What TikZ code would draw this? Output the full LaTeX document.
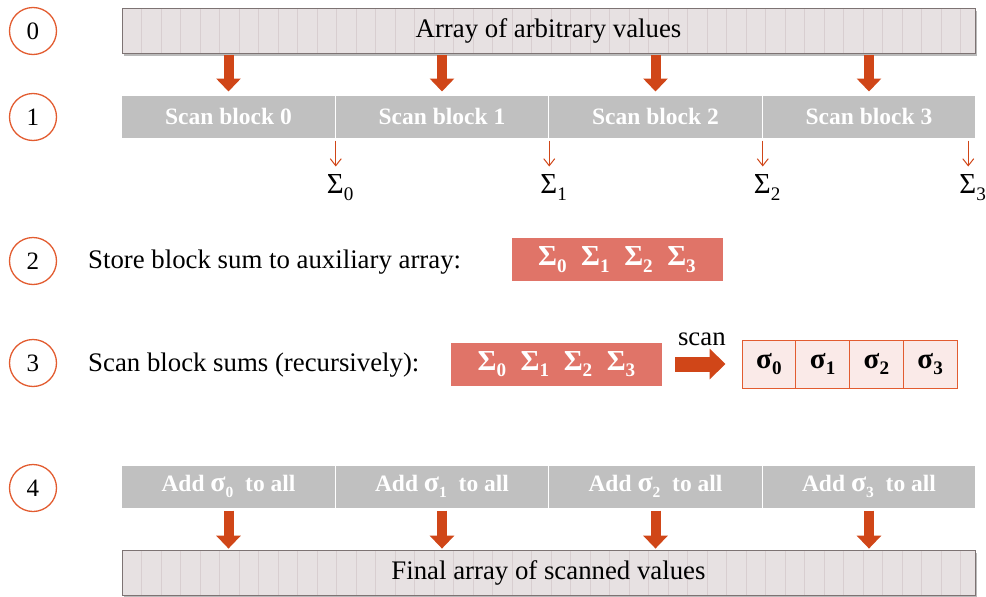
\documentclass[tikz,border=0pt]{standalone}
\usepackage{fontspec}
\setmainfont{Liberation Serif}
\usetikzlibrary{arrows.meta,shadows}

\definecolor{fatred}{RGB}{208,70,24}
\definecolor{ringred}{RGB}{226,92,48}
\definecolor{blockgray}{RGB}{192,192,192}
\definecolor{sumred}{RGB}{224,116,104}
\definecolor{cellpink}{RGB}{250,234,232}
\definecolor{arrayfill}{RGB}{231,225,226}
\definecolor{arraystripe}{RGB}{216,206,208}
\definecolor{arrayedge}{RGB}{125,115,115}

\newcommand{\lowidx}[1]{\raisebox{-0.5ex}{\scalebox{0.66}{#1}}}

\tikzset{
  stepnum/.style={circle, draw=ringred, line width=1.3pt, minimum size=47pt, inner sep=0pt, font=\fontsize{25}{30}\selectfont},
  arraybox/.style={draw=arrayedge, fill=arrayfill, line width=0.8pt, minimum width=853pt, minimum height=45pt, inner sep=0pt,
    drop shadow={shadow xshift=2pt, shadow yshift=-2.5pt, fill=black!45, opacity=0.6},
    path picture={\foreach \k in {1,...,43} \draw[arraystripe, line width=1pt] ([xshift=\k*19.5pt]path picture bounding box.north west) -- ([xshift=\k*19.5pt]path picture bounding box.south west);}},
  scanblk/.style={fill=blockgray, draw=white, line width=1pt, minimum width=213.5pt, minimum height=43pt, inner sep=0pt, text=white, font=\fontsize{23.5}{26}\selectfont\bfseries},
  sumbox/.style={fill=sumred, minimum width=211pt, minimum height=43pt, inner sep=0pt, text=white, font=\fontsize{29}{32}\selectfont\bfseries},
  sigcell/.style={fill=cellpink, draw=ringred, line width=1pt, minimum width=53.75pt, minimum height=48pt, inner sep=0pt, font=\fontsize{29}{32}\selectfont\bfseries},
  sumlabel/.style={inner sep=2pt, font=\fontsize{29}{32}\selectfont},
  fatarrow/.style={fatred, line width=10pt, -{Triangle[width=24pt,length=13pt]}},
  thinarrow/.style={fatred, line width=1pt, -{Straight Barb[width=11pt,length=7pt]}},
}

\begin{document}
\begin{tikzpicture}[x=1pt, y=-1pt, every node/.append style={font=\fontsize{26.8}{31}\selectfont}]
\useasboundingbox (0,0) rectangle (986,597);

% step numbers
\foreach \n/\y in {0/31,1/117,2/261,3/363,4/488}
  \node[stepnum] (num\n) at (33,\y) {\n};

% input array
\node[arraybox] (input) at (548.5,30.5) {Array of arbitrary values};

% scan blocks
\foreach \i in {0,...,3} {
  \node[scanblk] (scan\i) at (228.5+\i*213.5,116.5) {Scan block \i};
  \draw[fatarrow, shorten <=2pt, shorten >=3pt] (input.south -| scan\i.north) -- (scan\i.north);
}

% block sums
\foreach \i/\dx in {0/0,1/0,2/0,3/-8} {
  \coordinate (a\i) at ([xshift=\dx pt, yshift=-2pt]scan\i.south east);
  \node[sumlabel, anchor=north west] (S\i) at ([xshift=-11pt, yshift=-32pt]a\i) {Σ\lowidx{\i}};
  \draw[thinarrow, shorten >=6pt] (a\i) -- (a\i |- S\i.north);
}

% step 2
\node[anchor=west, inner sep=0pt] (store) at (88,262) {Store block sum to auxiliary array:};
\node[sumbox] (aux) at (617,259.5) {Σ\lowidx{0}\enspace Σ\lowidx{1}\enspace Σ\lowidx{2}\enspace Σ\lowidx{3}};

% step 3
\node[anchor=west, inner sep=0pt] (recur) at (88,365) {Scan block sums (recursively):};
\node[sumbox] (auxscan) at (556.5,364) {Σ\lowidx{0}\enspace Σ\lowidx{1}\enspace Σ\lowidx{2}\enspace Σ\lowidx{3}};
\foreach \i in {0,...,3}
  \node[sigcell] (sig\i) at (768.9+\i*53.75,364) {σ\lowidx{\i}};
\draw[fatarrow, line width=15pt, -{Triangle[width=30pt,length=16pt]}, shorten <=13pt, shorten >=16pt] (auxscan.east) -- (sig0.west) node[midway, above=11pt, inner sep=0pt, text=black] {scan};

% step 4
\node[arraybox] (output) at (548.5,572.5) {Final array of scanned values};
\foreach \i in {0,...,3} {
  \node[scanblk] (add\i) at (228.5+\i*213.5,486.5) {Add {\fontsize{28}{30}\selectfont σ}\lowidx{\i}\enspace to all};
  \draw[fatarrow, shorten <=2pt, shorten >=1pt] (add\i.south) -- (output.north -| add\i.south);
}

\end{tikzpicture}
\end{document}
